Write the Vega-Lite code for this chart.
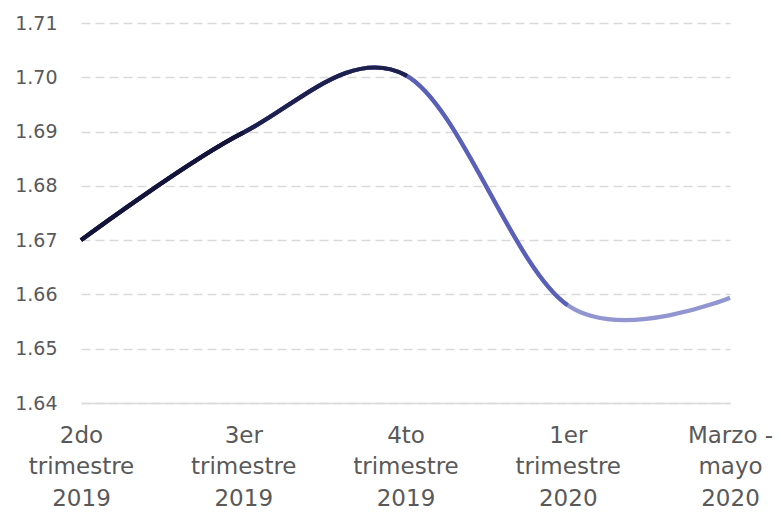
{
  "$schema": "https://vega.github.io/schema/vega-lite/v6.json",
  "autosize": {"type": "none"},
  "width": 649,
  "height": 380,
  "padding": {"left": 81, "top": 23, "right": 50, "bottom": 110},
  "background": "white",
  "config": {
    "view": {"stroke": null},
    "font": "DejaVu Sans"
  },
  "data": {
    "values": [
      {"periodo": "2do\ntrimestre\n2019", "valor": 1.6700},
      {"periodo": "3er\ntrimestre\n2019", "valor": 1.6898},
      {"periodo": "4to\ntrimestre\n2019", "valor": 1.7004},
      {"periodo": "1er\ntrimestre\n2020", "valor": 1.6580},
      {"periodo": "Marzo -\nmayo\n2020", "valor": 1.6594}
    ]
  },
  "encoding": {
    "x": {
      "field": "periodo", "type": "nominal", "sort": null,
      "scale": {"type": "point", "padding": 0},
      "axis": {
        "title": null, "labelAngle": 0, "ticks": false, "grid": false,
        "domain": true, "domainColor": "#d9d9d9", "domainWidth": 1.3,
        "labelExpr": "split(datum.value, '\\n')",
        "labelFont": "DejaVu Sans", "labelFontSize": 23, "labelColor": "#595959",
        "labelLineHeight": 31.5, "labelPadding": 21
      }
    },
    "y": {
      "field": "valor", "type": "quantitative",
      "scale": {"domain": [1.64, 1.71], "nice": false, "zero": false},
      "axis": {
        "title": null, "values": [1.64, 1.65, 1.66, 1.67, 1.68, 1.69, 1.70, 1.71],
        "format": ".2f", "domain": false, "ticks": false,
        "grid": true, "gridColor": "#d9d9d9", "gridDash": [9, 5], "gridWidth": 1.3,
        "labelFont": "DejaVu Sans", "labelFontSize": 19, "labelColor": "#595959",
        "labelPadding": 24
      }
    }
  },
  "layer": [
    {"mark": {"type": "line", "interpolate": "cardinal", "color": "#9195d0", "strokeWidth": 4.2}},
    {"mark": {"type": "line", "interpolate": "cardinal", "color": "#5a60b8", "strokeWidth": 4.2, "strokeDash": [659, 5000]}},
    {"mark": {"type": "line", "interpolate": "cardinal", "color": "#1d1f4c", "strokeWidth": 4.2, "strokeDash": [377, 5000]}},
    {"mark": {"type": "line", "interpolate": "cardinal", "color": "#131438", "strokeWidth": 4.2, "strokeDash": [195, 5000]}}
  ]
}
